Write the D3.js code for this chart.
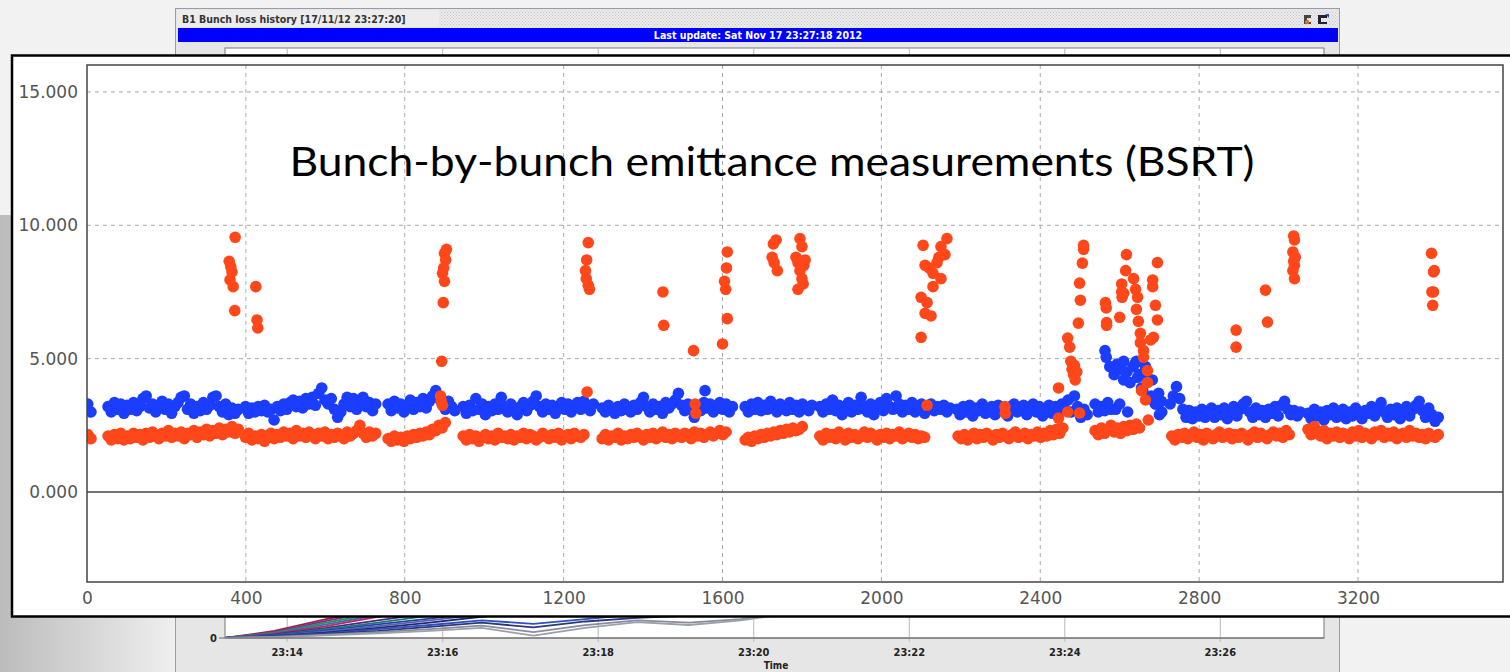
<!DOCTYPE html>
<html>
<head>
<meta charset="utf-8">
<script src="https://cdn.jsdelivr.net/npm/d3@7"></script>
<style>
  body { margin: 0; background: #f2f2f2; overflow: hidden; }
</style>
</head>
<body>
<div id="board"></div>
<script>

// ---- main chart data: emittance per bunch slot, one array per train ----
const bunchStep = 8;
const blueStarts = [2, 53, 399, 758, 947, 1297, 1657, 1845, 2190, 2538, 2727, 3074];
const blueTrains = [
  [3.3, 3.0],
  [3.2,3.0,3.35,3.1,3.3,2.95,3.25,3.1,3.35,3.05,3.2,3.5,3.6,3.15,3.3,3.0,3.25,3.4,3.1,3.3,2.95,3.2,3.35,3.55,3.6,3.1,3.3,2.95,3.2,3.05,3.35,3.1,3.25,3.55,3.6,3.2,3.0,3.3,2.9,3.15,2.95,3.1],
  [3.2,2.95,3.15,3.0,3.2,3.05,3.25,3.0,3.1,2.7,3.2,3.05,3.3,3.1,3.35,3.45,3.2,3.4,3.15,3.5,3.3,3.55,3.25,3.7,3.9,3.45,3.3,3.5,3.1,2.8,3.0,3.3,3.55,3.2,3.5,3.1,3.4,3.55,3.2,3.35,3.05,3.3],
  [3.3,3.05,3.4,3.15,3.3,3.0,3.25,3.45,3.1,3.35,3.2,3.5,3.15,3.4,3.6,3.8,3.5,3.3,3.1,3.4,3.2,3.05],
  [3.2,2.95,3.25,3.05,3.5,3.1,3.3,2.9,3.2,3.05,3.3,3.1,3.55,3.2,3.0,3.3,3.1,2.9,3.2,3.35,3.05,3.25,3.4,3.6,3.2,3.0,3.3,3.1,3.25,2.95,3.2,3.35,3.1,3.3,3.0,3.25,3.35,3.1,3.4,3.2,3.05,3.3],
  [3.15,3.0,3.25,3.1,2.95,3.2,3.05,3.3,3.1,3.0,3.25,3.1,3.35,3.55,3.2,3.0,3.3,3.1,3.2,2.95,3.35,3.15,3.3,3.45,3.7,3.25,3.05,3.3,3.1,2.8,3.25,3.05,3.35,3.15,3.3,3.0,3.25,3.35,3.1,3.3,3.0,3.2],
  [3.2,3.0,3.3,3.1,3.35,3.05,3.25,3.1,3.4,3.15,3.0,3.3,3.2,3.05,3.35,3.1,3.25,3.0,3.3,3.15,3.05,3.25],
  [3.2,3.0,3.3,3.1,3.45,3.05,3.25,2.9,3.2,3.35,3.0,3.25,3.1,3.55,3.2,3.0,3.3,2.9,3.15,3.35,3.05,3.5,3.2,3.1,3.6,3.3,3.0,3.25,3.1,3.35,3.0,3.2,3.3,2.95,3.15,3.3,3.05,3.2,3.1,3.25,3.0,3.15],
  [3.1,2.9,3.2,3.0,3.25,2.85,3.15,3.05,3.3,2.95,3.1,3.2,2.9,3.25,3.05,3.15,2.85,3.2,3.3,3.0,3.1,3.25,2.9,3.15,3.3,3.0,3.2,2.85,3.1,3.25,2.95,3.2,3.05,3.3,3.1,3.45,3.0,3.6,3.2,2.8,3.1,2.9],
  [3.3,3.0,3.2,3.05,3.35,3.1,4.4,4.8,4.6,4.2,4.5,4.1,4.7,4.9,4.4,3.8,4.6,3.5,4.2,3.3,3.7,3.0],
  [3.3,3.6,3.95,3.5,3.1,2.8,3.05,2.75,3.0,2.85,3.1,2.8,3.0,3.15,2.8,3.05,2.9,3.15,2.75,3.0,3.2,2.85,3.1,3.3,3.4,3.0,2.8,3.15,2.9,3.05,2.8,3.1,2.95,3.2,2.85,3.25,3.4,3.1,2.9,3.05,2.85,3.0],
  [2.95,2.75,3.1,2.85,3.0,2.7,3.05,2.9,3.15,2.8,2.95,3.1,2.75,3.0,2.85,3.15,2.9,2.75,3.05,2.95,3.2,2.85,3.1,3.35,3.0,2.8,3.1,2.9,3.15,2.75,3.0,3.2,2.85,3.1,3.25,3.4,3.05,2.8,3.15,2.9,2.65,2.8]
];
const blueExtra = [[1556,3.8],[2563,5.3],[2566,5.05],[2575,4.7],[2590,3.1],[2600,3.3],[2610,4.9],[2620,3.0],
  [2640,4.85],[2645,4.3],[2655,3.9],[2665,4.7],[2672,4.2],[2680,3.6],[2690,3.3],[2700,2.9],[2705,3.4]];

const redStarts = [2, 53, 399, 758, 947, 1297, 1657, 1845, 2193, 2538, 2731, 3074];
const redTrains = [
  [2.15, 2.0],
  [2.1,1.95,2.15,2.0,2.2,1.95,2.1,2.0,2.2,2.05,2.15,1.95,2.2,2.05,2.25,2.1,2.0,2.2,2.1,2.3,2.05,2.2,2.1,2.25,2.0,2.2,2.15,2.3,2.05,2.25,2.15,2.35,2.1,2.3,2.2,2.4,2.15,2.35,2.25,2.45,2.2,2.35],
  [2.05,2.2,1.95,2.1,2.0,2.15,1.9,2.1,2.2,2.0,2.15,2.05,2.25,2.1,2.2,2.0,2.3,2.1,2.2,2.05,2.25,2.15,2.0,2.2,2.1,2.25,2.0,2.15,2.05,2.2,2.1,2.0,2.25,2.1,2.2,2.3,2.5,2.2,2.05,2.25,2.1,2.2],
  [2.0,1.9,2.1,1.95,2.05,1.9,2.1,2.0,2.15,2.05,2.2,2.1,2.25,2.15,2.35,2.3,2.5,2.4,2.6],
  [2.1,1.95,2.15,2.0,2.1,1.9,2.05,2.15,2.0,2.1,1.95,2.2,2.05,2.1,2.0,2.15,1.95,2.1,2.05,2.2,2.0,2.15,2.1,1.95,2.05,2.2,2.1,2.0,2.15,2.05,2.2,1.95,2.1,2.15,2.0,2.2,2.1,2.05,2.15],
  [2.0,2.15,1.95,2.1,2.05,2.2,1.95,2.1,2.0,2.15,2.05,2.2,2.1,1.95,2.15,2.05,2.2,2.0,2.1,2.25,2.05,2.15,2.0,2.2,2.1,2.05,2.2,2.15,2.0,2.25,2.1,2.2,2.05,2.15,2.25,2.1,2.2,2.3,2.15,2.25],
  [1.95,2.05,1.9,2.1,2.0,2.15,2.05,2.2,2.1,2.25,2.15,2.3,2.2,2.35,2.25,2.4,2.3,2.35,2.45],
  [2.1,1.95,2.2,2.05,2.15,2.0,2.25,2.1,1.95,2.2,2.05,2.15,2.0,2.1,2.25,2.05,2.2,2.1,1.95,2.15,2.05,2.2,2.0,2.15,2.1,2.25,2.0,2.1,2.2,2.05,2.15,2.0,2.1,2.05],
  [2.1,2.0,2.15,1.95,2.1,2.2,2.0,2.15,2.05,2.2,2.1,1.95,2.15,2.05,2.2,2.1,2.0,2.15,2.25,2.05,2.1,2.2,2.0,2.15,2.1,2.25,2.05,2.2,2.1,2.3,2.15,2.35,2.2,2.4],
  [2.3,2.15,2.4,2.2,2.35,2.5,2.25,2.4,2.2,2.45,2.3,2.5,2.35,2.55,2.4],
  [2.1,1.95,2.15,2.05,2.2,2.0,2.1,2.25,2.05,2.15,1.95,2.2,2.1,2.0,2.15,2.25,2.05,2.1,2.2,2.0,2.15,2.05,2.2,2.1,1.95,2.15,2.25,2.05,2.2,2.1,2.0,2.15,2.25,2.1,2.2,2.05,2.3,2.15],
  [2.35,2.15,2.45,2.2,2.1,2.3,2.0,2.2,2.1,2.25,2.05,2.2,2.15,2.0,2.25,2.1,2.3,2.05,2.2,2.1,2.0,2.25,2.15,2.3,2.05,2.2,2.1,2.25,2.0,2.15,2.2,2.05,2.3,2.1,2.2,2.05,2.15,2.0,2.2,2.1,2.05,2.15]
];
const redExtra = [
  [373,9.55],[358,8.65],[362,8.45],[365,8.25],[360,7.95],[368,7.7],[372,6.8],
  [425,7.7],[428,6.45],[430,6.15],
  [905,9.1],[900,8.95],[903,8.7],[898,8.4],[895,8.2],[900,7.9],[897,7.1],[893,4.9],[890,3.6],[892,3.4],[895,3.25],
  [1262,9.35],[1258,8.7],[1255,8.3],[1257,8.0],[1262,7.75],[1265,7.6],[1259,3.75],
  [1450,7.5],[1452,6.25],[1527,5.3],[1531,3.3],[1533,2.95],
  [1612,9.0],[1610,8.4],[1605,7.9],[1608,7.6],[1612,6.5],[1600,5.55],
  [1728,9.3],[1735,9.45],[1725,8.8],[1730,8.6],[1738,8.3],
  [1795,9.5],[1800,9.2],[1785,8.8],[1790,8.6],[1805,8.5],[1795,8.3],[1800,8.0],[1803,7.8],[1790,7.6],[1808,8.7],
  [2165,9.5],[2150,9.2],[2160,8.9],[2140,8.6],[2120,8.4],[2130,8.2],[2110,8.5],[2105,9.25],[2130,7.7],[2100,7.3],
  [2115,7.1],[2110,6.7],[2125,6.6],[2100,5.8],[2150,8.0],[2145,8.8],[2115,3.25],
  [2311,3.2],[2312,2.95],
  [2446,3.9],[2446,2.77],[2469,5.77],[2474,5.43],[2469,3.0],[2477,4.9],[2480,4.6],[2484,4.4],[2488,4.2],[2492,4.5],[2486,4.75],
  [2496,6.33],[2499,7.83],[2501,7.19],[2506,8.58],[2509,9.1],[2509,9.25],[2499,2.96],
  [2564,7.1],[2566,6.9],[2567,6.35],[2567,6.25],[2600,6.55],[2605,7.8],[2605,7.5],[2606,7.3],[2610,7.45],[2615,8.3],[2617,8.9],
  [2635,8.0],[2640,7.6],[2642,6.85],[2645,7.3],[2647,6.4],[2652,5.95],[2652,5.6],[2660,5.3],[2660,5.05],[2670,4.55],[2670,4.1],
  [2655,3.8],[2665,3.45],[2672,2.7],[2683,7.95],[2683,7.7],[2695,8.6],[2690,7.0],[2695,6.45],[2685,5.8],[2678,5.7],[2635,2.4],
  [2893,6.07],[2893,5.43],[2967,7.57],[2972,6.37],
  [3038,9.6],[3040,9.45],[3036,9.0],[3042,8.8],[3038,8.65],[3040,8.5],[3036,8.3],[3040,8.0],
  [3385,8.95],[3390,8.25],[3392,8.3],[3386,7.5],[3388,7.0],[3390,7.5]
];

const xTicks = [0, 400, 800, 1200, 1600, 2000, 2400, 2800, 3200];
const yTicks = [0, 5, 10, 15];
const chartTitle = "Bunch-by-bunch emittance measurements (BSRT)";

// ---- background window (loss history) data ----
const windowTitle = "B1 Bunch loss history  [17/11/12 23:27:20]";
const lastUpdate = "Last update: Sat Nov 17 23:27:18 2012";
const timeTicks = ["23:14", "23:16", "23:18", "23:20", "23:22", "23:24", "23:26"];
const lossTimes = ["23:13:12","23:13:50","23:14:30","23:15:10","23:15:50","23:16:30","23:17:10","23:17:50","23:18:30","23:19:10","23:19:50","23:20:30"];
const lossSeries = [
  [0,1.2,3.2,5.0,7.0,9,10,11,12,13,14,15],
  [0,1.0,2.9,4.6,6.5,8,9,10,11,12,13,14],
  [0,0.9,2.6,4.2,6.0,7,8,9,10,11,12,13],
  [0,0.8,2.3,3.9,5.5,7,8,9,10,11,12,13],
  [0,0.7,2.0,3.6,5.0,6,7,8,9,10,11,12],
  [0,0.6,1.7,3.0,4.2,5.5,6,7,8,9,10,11],
  [0,0.5,1.5,2.6,3.8,5.0,6,7,8,9,10,11],
  [0,0.45,1.3,2.3,3.3,4.4,5,6,7,8,9,10],
  [0,0.4,1.1,2.0,3.0,4.0,5,6,7,8,9,10],
  [0,0.35,0.9,1.7,2.6,3.6,4.5,5,6,7,8,9],
  [0,0.3,0.8,1.5,2.2,3.0,2.4,3.2,4.0,5,6,7],
  [0,0.25,0.7,1.2,1.9,2.6,1.8,2.8,3.4,3.8,5,6],
  [0,0.2,0.55,1.0,1.5,2.1,1.0,2.2,3.0,2.6,3.2,4.5],
  [0,0.15,0.45,0.8,1.2,1.7,0.4,1.7,2.7,2.2,3.0,4.2]
];
const lossColors = ["#a0204a","#7b2d8e","#2e8b57","#3a6fb0","#b03060","#4b2a8a","#1f7a6a",
  "#2244aa","#5a5fb0","#1a2a6a","#3050c0","#283878","#8a8a9a","#9aa0aa"];

// ---- drawing ----
let board = d3.select("#board")
  .append("svg")
  .attr("width", 1510)
  .attr("height", 672);

let defs = board.append("defs");

let slideGrad = defs.append("linearGradient").attr("id", "slideGrad");
slideGrad.append("stop").attr("offset", "0%").attr("stop-color", "#bcbcbc");
slideGrad.append("stop").attr("offset", "100%").attr("stop-color", "#f0f0f0");

let hatch = defs.append("pattern")
  .attr("id", "hatch")
  .attr("width", 3)
  .attr("height", 3)
  .attr("patternUnits", "userSpaceOnUse");
hatch.append("rect").attr("width", 3).attr("height", 3).attr("fill", "#ececec");
hatch.append("rect").attr("width", 1).attr("height", 1).attr("fill", "#c4c4c4");
hatch.append("rect").attr("x", 1.5).attr("y", 1.5).attr("width", 1).attr("height", 1).attr("fill", "#c4c4c4");

defs.append("clipPath").attr("id", "lossClip")
  .append("rect").attr("x", 225).attr("y", 48).attr("width", 1099).attr("height", 590);

defs.append("clipPath").attr("id", "plotClip")
  .append("rect").attr("x", 87).attr("y", 65).attr("width", 1416).attr("height", 517);

// slide background
board.append("rect").attr("width", 1510).attr("height", 672).attr("fill", "#f2f2f2");
board.append("rect")
  .attr("x", 0).attr("y", 215).attr("width", 178).attr("height", 457)
  .attr("fill", "url(#slideGrad)");

// background window
let win = board.append("g");
win.append("rect")
  .attr("x", 175.5).attr("y", 8.5).attr("width", 1164).attr("height", 680)
  .attr("fill", "#e6e6e6")
  .style("stroke", "#9a9aa8");
win.append("rect")
  .attr("x", 177).attr("y", 10).attr("width", 1161).attr("height", 17)
  .attr("fill", "url(#hatch)");
win.append("rect")
  .attr("x", 177).attr("y", 10).attr("width", 262).attr("height", 17)
  .attr("fill", "#ececec");
win.append("text")
  .attr("x", 182).attr("y", 23)
  .style("font-family", "'DejaVu Sans Condensed', 'DejaVu Sans', sans-serif")
  .style("font-weight", "bold")
  .style("font-size", "10.5px")
  .attr("fill", "#333")
  .text(windowTitle);

// window icons
let icons = win.append("g");
icons.append("path").attr("d", "M1304,15 h7 v3 h-4 v4 h4 v2 h-7 z").attr("fill", "#444");
icons.append("circle").attr("cx", 1307).attr("cy", 22).attr("r", 2.2).attr("fill", "#e07020");
icons.append("path").attr("d", "M1318,15 h9 v3 h-6 v4 h6 v2 h-9 z").attr("fill", "#223");
icons.append("path").attr("d", "M1325,14 l4,0 l0,4 z").attr("fill", "#2a4ad0");

win.append("rect")
  .attr("x", 178).attr("y", 28).attr("width", 1160).attr("height", 14)
  .attr("fill", "#0000ff");
win.append("text")
  .attr("x", 758).attr("y", 39)
  .attr("text-anchor", "middle")
  .style("font-family", "'DejaVu Sans Condensed', 'DejaVu Sans', sans-serif")
  .style("font-weight", "bold")
  .style("font-size", "10.5px")
  .attr("fill", "white")
  .text(lastUpdate);

// loss history plot behind
let parseClock = d3.timeParse("%H:%M:%S");
let tScale = d3.scaleTime()
  .domain([parseClock("23:13:12"), parseClock("23:27:20")])
  .range([225, 1324]);
let lossY = d3.scaleLinear().domain([0, 100]).range([638, 48]);

win.append("rect")
  .attr("x", 225).attr("y", 48).attr("width", 1099).attr("height", 590)
  .attr("fill", "white")
  .style("stroke", "#777");

win.selectAll(".tgrid")
  .data(timeTicks)
  .enter()
  .append("line")
  .attr("x1", d => tScale(parseClock(d + ":00")))
  .attr("x2", d => tScale(parseClock(d + ":00")))
  .attr("y1", 48)
  .attr("y2", 642)
  .style("stroke", "#b8b8b8");

let lossLine = d3.line()
  .x((d, i) => tScale(parseClock(lossTimes[i])))
  .y(d => lossY(d));

win.append("g")
  .attr("clip-path", "url(#lossClip)")
  .selectAll("path")
  .data(lossSeries)
  .enter()
  .append("path")
  .attr("d", lossLine)
  .attr("fill", "none")
  .style("stroke", (d, i) => lossColors[i])
  .style("stroke-width", 1.8);

win.append("line")
  .attr("x1", 225).attr("x2", 1324).attr("y1", 638).attr("y2", 638)
  .style("stroke", "#666");
win.append("line")
  .attr("x1", 219).attr("x2", 225).attr("y1", 638).attr("y2", 638)
  .style("stroke", "#666");
win.append("text")
  .attr("x", 217).attr("y", 642)
  .attr("text-anchor", "end")
  .style("font-family", "'DejaVu Sans Condensed', 'DejaVu Sans', sans-serif")
  .style("font-weight", "bold")
  .style("font-size", "11px")
  .attr("fill", "#222")
  .text("0");

win.selectAll(".tlabel")
  .data(timeTicks)
  .enter()
  .append("text")
  .attr("x", d => tScale(parseClock(d + ":00")))
  .attr("y", 656)
  .attr("text-anchor", "middle")
  .style("font-family", "'DejaVu Sans Condensed', 'DejaVu Sans', sans-serif")
  .style("font-weight", "bold")
  .style("font-size", "11px")
  .attr("fill", "#222")
  .text(d => d);

win.append("text")
  .attr("x", 776).attr("y", 669)
  .attr("text-anchor", "middle")
  .style("font-family", "'DejaVu Sans Condensed', 'DejaVu Sans', sans-serif")
  .style("font-weight", "bold")
  .style("font-size", "10px")
  .attr("fill", "#222")
  .text("Time");

// ---- overlay box with emittance chart ----
let x = d3.scaleLinear().domain([0, 3565]).range([87, 1503]);
let y = d3.scaleLinear().domain([-3.375, 16.01]).range([582, 65]);

board.append("rect")
  .attr("x", 12).attr("y", 55.5).attr("width", 1520).attr("height", 561)
  .attr("fill", "white")
  .style("stroke", "black")
  .style("stroke-width", 2.5);

let chart = board.append("g");

chart.selectAll(".hgrid")
  .data(yTicks.filter(d => d !== 0))
  .enter()
  .append("line")
  .attr("x1", 87).attr("x2", 1503)
  .attr("y1", d => y(d)).attr("y2", d => y(d))
  .style("stroke", "#a8a8a8")
  .style("stroke-dasharray", "4,4");

chart.selectAll(".vgrid")
  .data(xTicks.filter(d => d !== 0))
  .enter()
  .append("line")
  .attr("x1", d => x(d)).attr("x2", d => x(d))
  .attr("y1", 65).attr("y2", 582)
  .style("stroke", "#a8a8a8")
  .style("stroke-dasharray", "4,4");

chart.append("line")
  .attr("x1", 87).attr("x2", 1503)
  .attr("y1", y(0)).attr("y2", y(0))
  .style("stroke", "#444")
  .style("stroke-width", 1.6);

chart.append("text")
  .attr("x", 772).attr("y", 176)
  .attr("text-anchor", "middle")
  .attr("textLength", 965)
  .attr("lengthAdjust", "spacingAndGlyphs")
  .style("font-family", "Lato, 'Open Sans', sans-serif")
  .style("font-size", "41px")
  .attr("fill", "black")
  .text(chartTitle);

function trainPoints(starts, trains) {
  let pts = [];
  trains.forEach((vals, t) => {
    vals.forEach((v, i) => pts.push([starts[t] + i * bunchStep, v]));
  });
  return pts;
}

let bluePts = trainPoints(blueStarts, blueTrains).concat(blueExtra);
let redPts = trainPoints(redStarts, redTrains).concat(redExtra);

let dots = chart.append("g").attr("clip-path", "url(#plotClip)");

dots.selectAll(".blue")
  .data(bluePts)
  .enter()
  .append("circle")
  .attr("cx", d => x(d[0]))
  .attr("cy", d => y(d[1]))
  .attr("r", 5.8)
  .attr("fill", "#1a3dff");

dots.selectAll(".red")
  .data(redPts)
  .enter()
  .append("circle")
  .attr("cx", d => x(d[0]))
  .attr("cy", d => y(d[1]))
  .attr("r", 5.8)
  .attr("fill", "#ff4719");

chart.append("rect")
  .attr("x", 87).attr("y", 65).attr("width", 1416).attr("height", 517)
  .attr("fill", "none")
  .style("stroke", "#444")
  .style("stroke-width", 1.5);

let xAxis = chart.append("g")
  .attr("transform", "translate(0,582)")
  .call(d3.axisBottom(x).tickValues(xTicks).tickFormat(d3.format("d")).tickSize(0).tickPadding(10));
xAxis.select(".domain").remove();
xAxis.selectAll("text")
  .style("font-family", "'DejaVu Sans', sans-serif")
  .style("font-size", "17px")
  .attr("fill", "#555");

let yAxis = chart.append("g")
  .attr("transform", "translate(87,0)")
  .call(d3.axisLeft(y).tickValues(yTicks).tickFormat(d3.format(".3f")).tickSize(0).tickPadding(9));
yAxis.select(".domain").remove();
yAxis.selectAll("text")
  .style("font-family", "'DejaVu Sans', sans-serif")
  .style("font-size", "17px")
  .attr("fill", "#555");

</script>
</body>
</html>
